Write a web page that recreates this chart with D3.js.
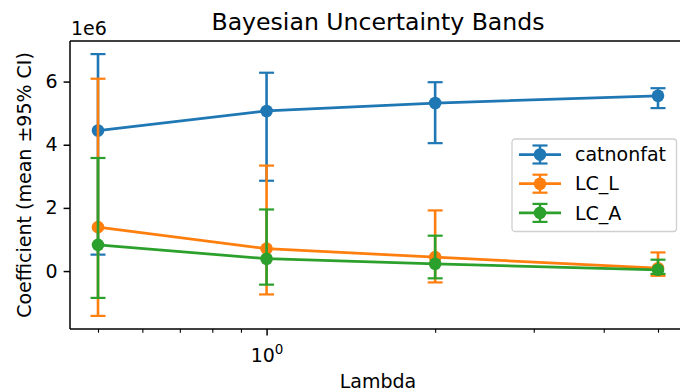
<!DOCTYPE html>
<html lang="en">
  <head>
    <meta charset="utf-8">
    <title>Bayesian Uncertainty Bands</title>
    <script type="text/javascript" src="https://cdn.jsdelivr.net/npm/d3@7"></script>
    <style>
      body { margin: 0; background: #fff; }
      text { font-family: "DejaVu Sans", sans-serif; fill: #000; }
    </style>
  </head>
  <body>
    <script type="text/javascript">
    // values (coefficients in raw units)
    var lambdas = [0.5, 1, 2, 5];
    var seriesNames = ["catnonfat", "LC_L", "LC_A"];
    var colours = ["#1f77b4", "#ff7f0e", "#2ca02c"];

    var catnonfatMean = [4.45e6, 5.07e6, 5.32e6, 5.55e6];
    var catnonfatLow  = [0.52e6, 2.86e6, 4.05e6, 5.16e6];
    var catnonfatHigh = [6.87e6, 6.28e6, 5.98e6, 5.79e6];

    var lcLMean = [1.39e6, 0.71e6, 0.44e6, 0.09e6];
    var lcLLow  = [-1.42e6, -0.74e6, -0.36e6, -0.15e6];
    var lcLHigh = [6.09e6, 3.34e6, 1.92e6, 0.59e6];

    var lcAMean = [0.83e6, 0.39e6, 0.23e6, 0.04e6];
    var lcALow  = [-0.85e6, -0.43e6, -0.23e6, -0.09e6];
    var lcAHigh = [3.58e6, 1.95e6, 1.12e6, 0.36e6];

    var yTicks = [0, 2e6, 4e6, 6e6];
    var xMajorTicks = [1];
    var xMinorTicks = [0.5, 0.6, 0.7, 0.8, 0.9, 2, 3, 4, 5, 6];

    var means = [catnonfatMean, lcLMean, lcAMean];
    var lows = [catnonfatLow, lcLLow, lcALow];
    var highs = [catnonfatHigh, lcLHigh, lcAHigh];

    var w = 680;
    var h = 391;
    // axes box (right edge runs past the picture)
    var axLeft = 70, axRight = 686, axTop = 41, axBottom = 329;

    var svg = d3.select("body")
                .append("svg")
                .attr("width", w)
                .attr("height", h);

    // matplotlib-like 5% margins
    var lx0 = Math.log10(d3.min(lambdas)), lx1 = Math.log10(d3.max(lambdas));
    var padX = (lx1 - lx0) * 0.05;
    var x = d3.scaleLog()
              .domain([Math.pow(10, lx0 - padX), Math.pow(10, lx1 + padX)])
              .range([axLeft, axRight]);

    var yMin = d3.min(lows, function(a) { return d3.min(a); });
    var yMax = d3.max(highs, function(a) { return d3.max(a); });
    var padY = (yMax - yMin) * 0.05;
    var y = d3.scaleLinear()
              .domain([yMin - padY, yMax + padY])
              .range([axBottom, axTop]);

    var plotArea = svg.append("g");

    var rows = [];
    seriesNames.forEach(function(name, s) {
      rows.push(lambdas.map(function(l, i) {
        return { lam: l, mean: means[s][i], lo: lows[s][i], hi: highs[s][i] };
      }));
    });

    var capHalf = 7.5;
    var line = d3.line()
                 .x(function(d) { return x(d.lam); })
                 .y(function(d) { return y(d.mean); });

    rows.forEach(function(data, s) {
      var g = plotArea.append("g");
      // error bars
      g.selectAll(".bar")
       .data(data)
       .enter()
       .append("line")
       .attr("x1", function(d) { return x(d.lam); })
       .attr("x2", function(d) { return x(d.lam); })
       .attr("y1", function(d) { return y(d.lo); })
       .attr("y2", function(d) { return y(d.hi); })
       .attr("stroke", colours[s])
       .attr("stroke-width", 2.6);
      // caps
      ["lo", "hi"].forEach(function(k) {
        g.selectAll(".cap-" + k)
         .data(data)
         .enter()
         .append("line")
         .attr("x1", function(d) { return x(d.lam) - capHalf; })
         .attr("x2", function(d) { return x(d.lam) + capHalf; })
         .attr("y1", function(d) { return y(d[k]); })
         .attr("y2", function(d) { return y(d[k]); })
         .attr("stroke", colours[s])
         .attr("stroke-width", 2.2);
      });
      g.append("path")
       .datum(data)
       .attr("d", line)
       .attr("fill", "none")
       .attr("stroke", colours[s])
       .attr("stroke-width", 2.75);
      g.selectAll("circle")
       .data(data)
       .enter()
       .append("circle")
       .attr("cx", function(d) { return x(d.lam); })
       .attr("cy", function(d) { return y(d.mean); })
       .attr("r", 6.3)
       .attr("fill", colours[s]);
    });

    // spines
    svg.append("line").attr("x1", axLeft).attr("x2", axRight).attr("y1", axTop).attr("y2", axTop)
       .attr("stroke", "#000").attr("stroke-width", 1.5);
    svg.append("line").attr("x1", axRight).attr("x2", axRight).attr("y1", axTop).attr("y2", axBottom)
       .attr("stroke", "#000").attr("stroke-width", 1.5);

    // y axis
    var yAxis = d3.axisLeft(y)
                  .tickValues(yTicks)
                  .tickSize(6.4)
                  .tickPadding(6)
                  .tickFormat(function(d) { return d3.format("d")(d / 1e6); });
    var yg = svg.append("g")
                .attr("transform", "translate(" + axLeft + ",0)")
                .call(yAxis);
    yg.select(".domain").attr("d", "M0," + axTop + "V" + axBottom).attr("stroke-width", 1.5);
    yg.selectAll(".tick line").attr("stroke-width", 1.5);
    yg.selectAll(".tick text").style("font-size", "19px").style("font-family", "DejaVu Sans");

    // x axis (log): major ticks with mathtext labels, minor ticks unlabelled
    var xAxis = d3.axisBottom(x)
                  .tickValues(xMajorTicks)
                  .tickSize(6.4)
                  .tickPadding(6)
                  .tickFormat(function() { return ""; });
    var xg = svg.append("g")
                .attr("transform", "translate(0," + axBottom + ")")
                .call(xAxis);
    xg.select(".domain").attr("d", "M" + axLeft + ",0H" + axRight).attr("stroke-width", 1.5);
    xg.selectAll(".tick line").attr("stroke-width", 1.5);
    xg.selectAll(".tick text").remove();
    xg.selectAll(".tick").each(function(d) {
      var t = d3.select(this).append("text")
                .attr("y", 33)
                .attr("text-anchor", "middle")
                .style("font-size", "19px");
      t.append("tspan").text("10");
      t.append("tspan").attr("dy", -8).style("font-size", "13.5px").text(Math.round(Math.log10(d)));
    });

    var xMinor = d3.axisBottom(x)
                   .tickValues(xMinorTicks)
                   .tickSize(3.7)
                   .tickFormat(function() { return ""; });
    var xmg = svg.append("g")
                 .attr("transform", "translate(0," + axBottom + ")")
                 .call(xMinor);
    xmg.select(".domain").remove();
    xmg.selectAll(".tick line").attr("stroke-width", 1.1);

    // offset text
    svg.append("text")
       .attr("x", 71)
       .attr("y", 35)
       .style("font-size", "19px")
       .text("1e6");

    // title and labels
    svg.append("text")
       .attr("x", (axLeft + axRight) / 2)
       .attr("y", 30)
       .attr("text-anchor", "middle")
       .style("font-size", "23.6px")
       .text("Bayesian Uncertainty Bands");

    svg.append("text")
       .attr("x", (axLeft + axRight) / 2)
       .attr("y", 388)
       .attr("text-anchor", "middle")
       .style("font-size", "19px")
       .text("Lambda");

    svg.append("text")
       .attr("transform", "translate(31,185) rotate(-90)")
       .attr("text-anchor", "middle")
       .style("font-size", "19px")
       .text("Coefficient (mean \u00b195% CI)");

    // legend
    var legend = svg.append("g").attr("transform", "translate(512,139)");
    legend.append("rect")
          .attr("width", 164.5)
          .attr("height", 92.5)
          .attr("rx", 3)
          .attr("fill", "#fff")
          .attr("fill-opacity", 0.8)
          .attr("stroke", "#d0d0d0")
          .attr("stroke-width", 1.3);

    var items = legend.selectAll(".item")
                      .data(seriesNames)
                      .enter()
                      .append("g")
                      .attr("transform", function(d, i) { return "translate(0," + (15.5 + i * 29.2) + ")"; });
    items.append("line")
         .attr("x1", 7).attr("x2", 49).attr("y1", 0).attr("y2", 0)
         .attr("stroke", function(d, i) { return colours[i]; })
         .attr("stroke-width", 2.75);
    items.append("line")
         .attr("x1", 28).attr("x2", 28).attr("y1", -9).attr("y2", 9)
         .attr("stroke", function(d, i) { return colours[i]; })
         .attr("stroke-width", 2.4);
    [-9, 9].forEach(function(cy) {
      items.append("line")
           .attr("x1", 28 - capHalf).attr("x2", 28 + capHalf).attr("y1", cy).attr("y2", cy)
           .attr("stroke", function(d, i) { return colours[i]; })
           .attr("stroke-width", 2.2);
    });
    items.append("circle")
         .attr("cx", 28).attr("cy", 0).attr("r", 6.3)
         .attr("fill", function(d, i) { return colours[i]; });
    items.append("text")
         .attr("x", 63)
         .attr("y", 6.6)
         .style("font-size", "19px")
         .text(function(d) { return d; });
    </script>
  </body>
</html>
